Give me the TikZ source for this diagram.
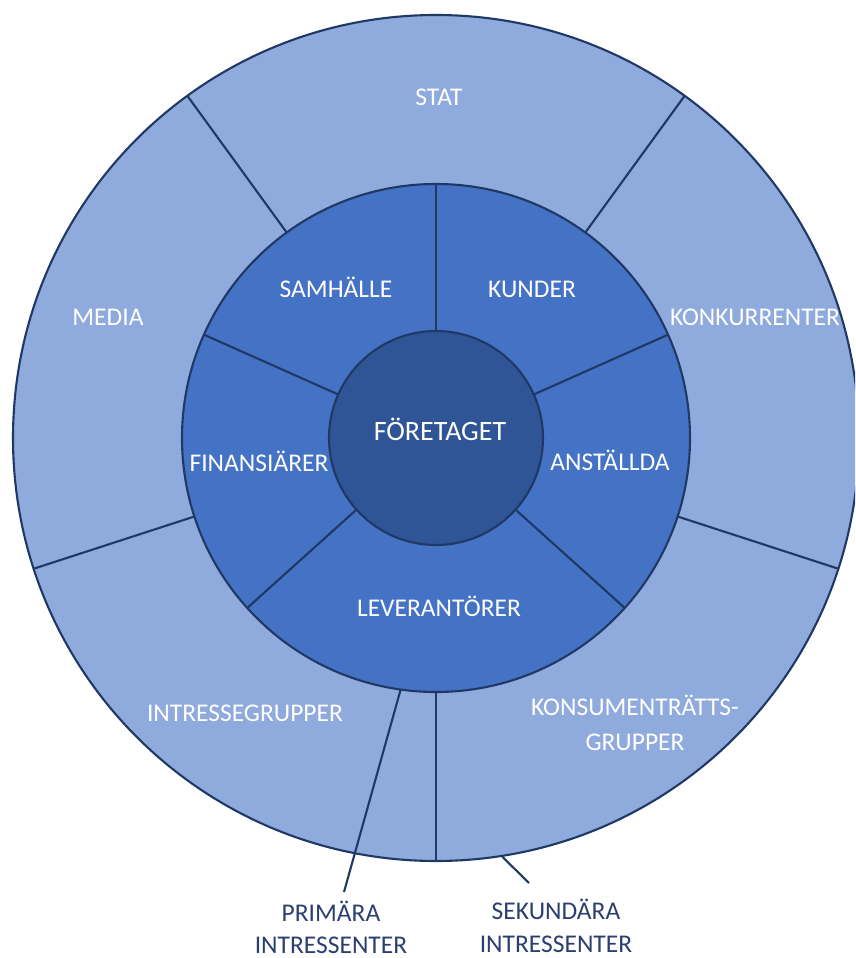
\documentclass[tikz,border=0pt]{standalone}
\usepackage{fontspec}
\setmainfont{Carlito}
\usetikzlibrary{calc}

\definecolor{ringouter}{HTML}{8FAADC}
\definecolor{ringmiddle}{HTML}{4472C4}
\definecolor{corefill}{HTML}{2F5597}
\definecolor{edgeblue}{HTML}{1F3864}
\definecolor{notetext}{HTML}{2B3F6E}

\tikzset{
  edge/.style={draw=edgeblue, line width=2.1pt},
  ringlabel/.style={text=white, font=\fontsize{25.5}{30}\selectfont,
    inner sep=0pt, text height=0.644em, text depth=0pt},
  corelabel/.style={ringlabel, font=\fontsize{28}{33}\selectfont},
  notelabel/.style={text=notetext, font=\fontsize{25.5}{30}\selectfont,
    inner sep=0pt, text height=0.644em, text depth=0pt},
  pointer/.style={draw=edgeblue, line width=2.1pt}
}

\begin{document}
\begin{tikzpicture}[x=1pt, y=1pt]
  \useasboundingbox (0,0) rectangle (855,-958);
  \fill[white] (0,0) rectangle (855,-958);
  \clip (0,0) rectangle (855,-958);

  \coordinate (C) at (436,-438);

  % secondary stakeholders: outer ring, five equal sectors
  \draw[edge, fill=ringouter] (C) circle[radius=423];
  \foreach \a in {-90,-18,54,126,198}
    \draw[edge] ($(C)+(\a:254)$) -- ($(C)+(\a:423)$);

  % primary stakeholders: middle ring
  \draw[edge, fill=ringmiddle] (C) circle[radius=254];
  \foreach \a in {90,24,-42,-138,156}
    \draw[edge] ($(C)+(\a:107)$) -- ($(C)+(\a:254)$);

  % the company itself
  \draw[edge, fill=corefill] (C) circle[radius=107];
  \node[corelabel] (foretaget) at (440,-437) {FÖRETAGET};

  % middle ring labels
  \node[ringlabel] (samhalle)   at (336,-294) {SAMHÄLLE};
  \node[ringlabel] (kunder)     at (532,-294) {KUNDER};
  \node[ringlabel] (finans)     at (259,-468) {FINANSIÄRER};
  \node[ringlabel] (anstallda)  at (610,-467) {ANSTÄLLDA};
  \node[ringlabel] (leverant)   at (439,-613) {LEVERANTÖRER};

  % outer ring labels
  \node[ringlabel] (stat)       at (439,-102) {STAT};
  \node[ringlabel] (media)      at (108,-322) {MEDIA};
  \node[ringlabel] (konkurr)    at (755,-322) {KONKURRENTER};
  \node[ringlabel] (intresse)   at (245,-718) {INTRESSEGRUPPER};
  \node[ringlabel] (konsument1) at (635,-712) {KONSUMENTRÄTTS-};
  \node[ringlabel] (konsument2) at (635,-747) {GRUPPER};

  % captions below the rings
  \node[notelabel] (primara1)   at (331,-918) {PRIMÄRA};
  \node[notelabel] (primara2)   at (331,-950) {INTRESSENTER};
  \node[notelabel] (sekundara1) at (556,-916) {SEKUNDÄRA};
  \node[notelabel] (sekundara2) at (556,-949) {INTRESSENTER};

  % pointers from the captions to their rings
  \coordinate (primStart) at ($(C)+(-98:254)$);
  \coordinate (primEnd)   at (344,-892);
  \coordinate (sekStart)  at ($(C)+(-81:424)$);
  \coordinate (sekEnd)    at (529,-883);
  \draw[pointer] (primStart) -- (primEnd);
  \draw[pointer] (sekStart) -- (sekEnd);
\end{tikzpicture}
\end{document}
